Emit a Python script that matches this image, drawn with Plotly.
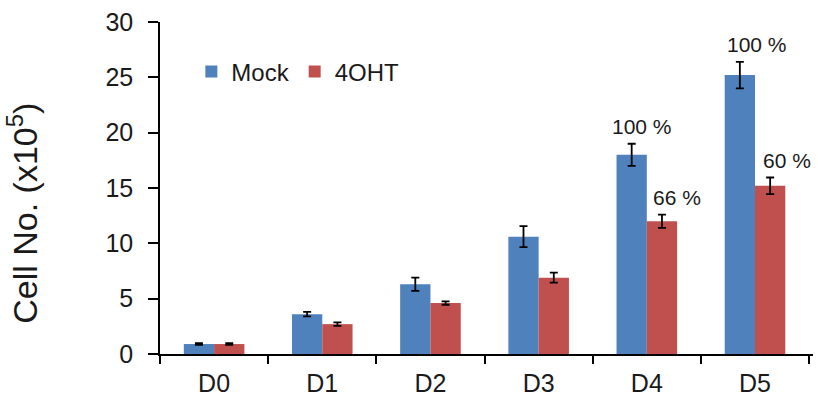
import plotly.graph_objects as go

days = ["D0", "D1", "D2", "D3", "D4", "D5"]
mock = [0.9, 3.6, 6.3, 10.6, 18.0, 25.2]
mock_err = [0.08, 0.2, 0.6, 0.95, 1.0, 1.2]
ohtx = [0.9, 2.7, 4.6, 6.9, 12.0, 15.2]
ohtx_err = [0.08, 0.15, 0.15, 0.45, 0.6, 0.75]

# percent labels: (day, series, text)
pct_labels = [
    ("D4", "mock", "100 %"),
    ("D4", "ohtx", "66 %"),
    ("D5", "mock", "100 %"),
    ("D5", "ohtx", "60 %"),
]

BLUE = "#4F81BD"
RED = "#C0504D"
FONT = "Liberation Sans, Arial, sans-serif"
INK = "#1a1a1a"

fig = go.Figure()
fig.add_trace(go.Bar(
    x=days, y=mock, name="Mock", marker_color=BLUE, marker_line_width=0,
    error_y=dict(type="data", array=mock_err, color="black", thickness=1.8, width=4),
))
fig.add_trace(go.Bar(
    x=days, y=ohtx, name="4OHT", marker_color=RED, marker_line_width=0,
    error_y=dict(type="data", array=ohtx_err, color="black", thickness=1.8, width=4),
))

lookup = {"mock": (mock, mock_err), "ohtx": (ohtx, ohtx_err)}
shifts = {("D4", "mock"): -5, ("D4", "ohtx"): 30, ("D5", "mock"): 2, ("D5", "ohtx"): 32}
for day, ser, txt in pct_labels:
    vals, errs = lookup[ser]
    i = days.index(day)
    fig.add_annotation(
        x=day, y=vals[i] + errs[i], xref="x", yref="y", text=txt, showarrow=False,
        xshift=shifts[(day, ser)], yshift=17, yanchor="middle",
        font=dict(family=FONT, size=21, color=INK),
    )

fig.add_annotation(
    xref="paper", yref="paper", x=-0.21, y=0.425, text="Cell No. (x10<sup>5</sup>)",
    textangle=-90, showarrow=False, xanchor="center", yanchor="middle",
    font=dict(family=FONT, size=34, color=INK),
)

fig.update_layout(
    width=818, height=399,
    margin=dict(l=160, r=5, t=22, b=45),
    paper_bgcolor="white", plot_bgcolor="white",
    barmode="group", bargap=0.44, bargroupgap=0,
    font=dict(family=FONT, size=24, color=INK),
    showlegend=True,
    legend=dict(
        orientation="h", x=0.048, y=0.85, xanchor="left", yanchor="middle",
        font=dict(family=FONT, size=24, color=INK),
        bgcolor="rgba(0,0,0,0)", tracegroupgap=0,
    ),
    xaxis=dict(
        showline=True, linecolor="black", linewidth=1.5,
        ticks="outside", ticklen=8, tickwidth=1.5, tickcolor="black",
        tickson="boundaries", showgrid=False, ticklabelstandoff=6,
        automargin=False,
        tickfont=dict(family=FONT, size=25, color=INK),
    ),
    yaxis=dict(
        range=[0, 30], tickvals=[0, 5, 10, 15, 20, 25, 30],
        showline=True, linecolor="black", linewidth=1.5,
        ticks="outside", ticklen=10, tickwidth=1.5, tickcolor="black",
        showgrid=False, zeroline=False, ticklabelstandoff=10,
        automargin=False,
        tickfont=dict(family=FONT, size=25, color=INK),
    ),
)

fig.write_html("out.html")
